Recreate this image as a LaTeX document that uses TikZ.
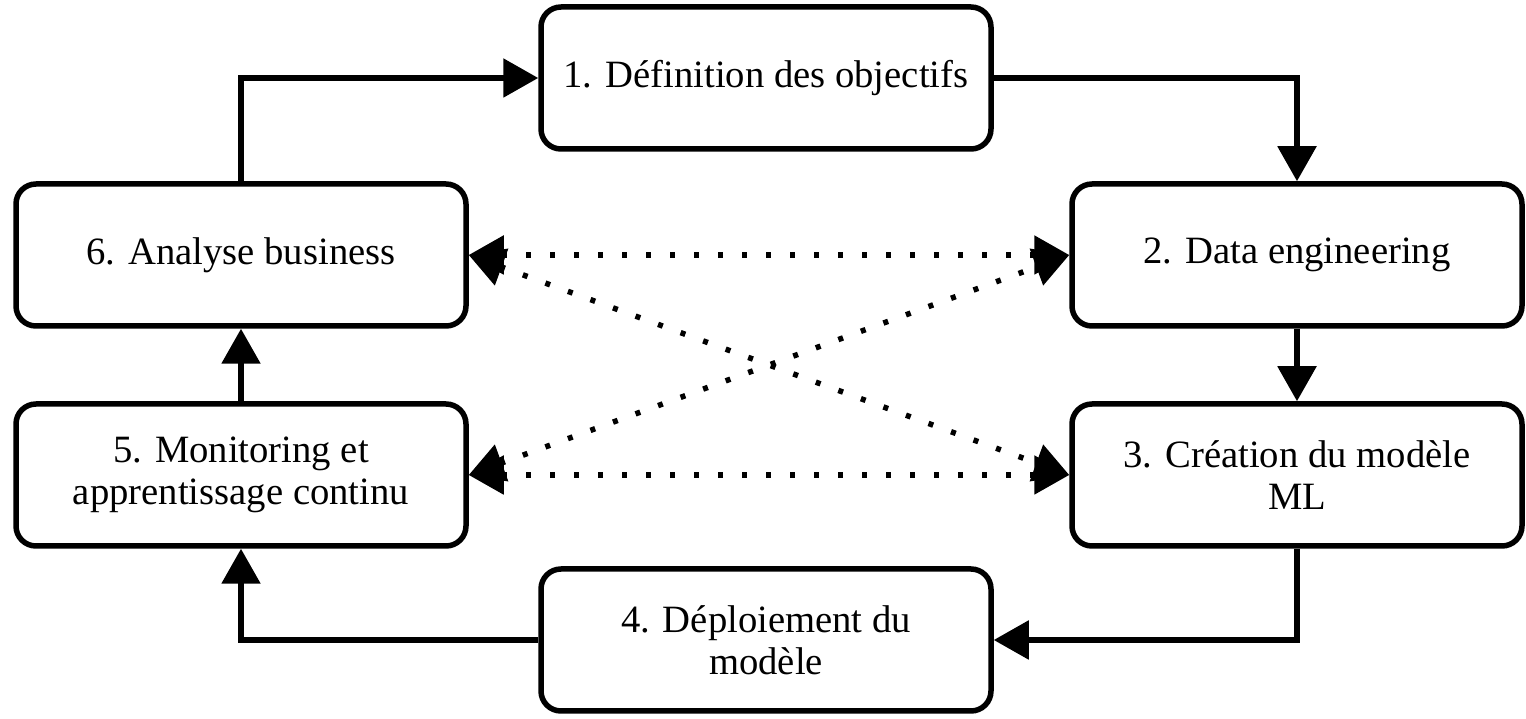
\documentclass[tikz,border=0pt]{standalone}
\usepackage{fontspec}
\setmainfont{Liberation Serif}
\usepackage{tikz}
\usetikzlibrary{arrows.meta}
\tikzset{
    stage/.style={draw, line width=0.55mm, rounded corners=2mm, fill=white,
        minimum width=4.5cm, minimum height=1.42cm, align=center,
        font=\fontsize{11}{12}\selectfont},
    flow/.style={line width=0.55mm, -{Triangle[length=3.5mm, width=3.8mm]}},
    link/.style={line width=0.55mm, dash pattern=on 0.5mm off 1.9mm,
        {Triangle[length=3.5mm, width=3.8mm]}-{Triangle[length=3.5mm, width=3.8mm]}}
}

\begin{document}
\begin{tikzpicture}
    \useasboundingbox (0,0) rectangle (15.26,-7.19);
    \node[stage] (obj) at (7.66,-0.78) {1. Définition des objectifs};
    \node[stage] (data) at (12.97,-2.55) {2. Data engineering};
    \node[stage] (ml) at (12.97,-4.75) {3. Création du modèle\\ML};
    \node[stage] (dep) at (7.66,-6.40) {4. Déploiement du\\modèle};
    \node[stage] (mon) at (2.41,-4.75) {5. Monitoring et\\apprentissage continu};
    \node[stage] (biz) at (2.41,-2.55) {6. Analyse business};

    % cycle
    \draw[flow] (biz.north) |- (obj.west);
    \draw[flow] (obj.east) -| (data.north);
    \draw[flow] (data.south) -- (ml.north);
    \draw[flow] (ml.south) |- (dep.east);
    \draw[flow] (dep.west) -| (mon.south);
    \draw[flow] (mon.north) -- (biz.south);

    % feedback
    \draw[link] (biz.east) -- (data.west);
    \draw[link] (mon.east) -- (ml.west);
    \draw[link] (biz.east) -- (ml.west);
    \draw[link] (mon.east) -- (data.west);
\end{tikzpicture}
\end{document}
